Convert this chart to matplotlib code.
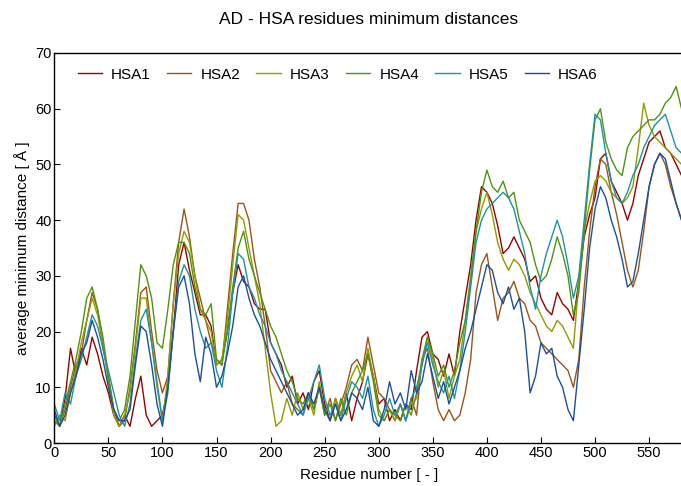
import matplotlib
matplotlib.use("Agg")
import matplotlib.pyplot as plt
import numpy as np

plt.rcParams['font.family'] = ['Liberation Sans', 'DejaVu Sans']

residues = list(range(0, 585, 5))

hsa1 = [5, 3, 8, 17, 12, 17, 14, 19, 16, 12, 9, 5, 3, 5, 3, 8, 12, 5, 3, 4,
        5, 10, 20, 32, 36, 31, 27, 23, 23, 21, 14, 15, 20, 27, 32, 29, 28, 25, 24, 24,
        18, 16, 14, 10, 12, 7, 9, 6, 11, 13, 7, 4, 8, 5, 9, 4, 8, 11, 16, 12,
        7, 8, 4, 6, 4, 7, 6, 13, 19, 20, 16, 15, 12, 16, 12, 20, 26, 32, 40, 46,
        45, 43, 39, 34, 35, 37, 35, 33, 29, 30, 26, 24, 23, 27, 25, 24, 22, 29, 37, 41,
        44, 51, 52, 47, 45, 43, 40, 43, 48, 51, 54, 55, 56, 53, 52, 50, 48]

hsa2 = [4, 3, 6, 10, 14, 16, 22, 27, 24, 17, 12, 6, 3, 4, 10, 18, 27, 28, 20, 13,
        9, 12, 25, 36, 42, 37, 30, 26, 22, 18, 15, 14, 24, 34, 43, 43, 40, 33, 28, 21,
        13, 11, 9, 11, 7, 6, 5, 9, 6, 10, 5, 8, 4, 7, 10, 14, 15, 13, 19, 14,
        9, 8, 6, 4, 7, 4, 8, 5, 15, 17, 11, 6, 4, 6, 4, 5, 9, 15, 27, 32,
        34, 28, 22, 26, 27, 29, 26, 25, 22, 21, 18, 17, 16, 15, 14, 13, 10, 15, 28, 38,
        46, 51, 50, 45, 41, 36, 31, 28, 31, 38, 46, 50, 52, 50, 46, 43, 40]

hsa3 = [3, 5, 4, 9, 13, 18, 22, 26, 23, 18, 11, 5, 3, 5, 9, 17, 26, 26, 18, 10,
        4, 12, 25, 34, 38, 36, 30, 24, 22, 20, 14, 15, 22, 32, 41, 40, 35, 30, 25, 17,
        9, 3, 4, 8, 5, 9, 6, 8, 5, 11, 6, 4, 8, 5, 9, 12, 14, 11, 17, 12,
        6, 4, 6, 4, 7, 4, 7, 8, 14, 19, 15, 10, 13, 8, 12, 15, 22, 30, 38, 42,
        45, 41, 36, 33, 31, 33, 32, 30, 27, 25, 23, 21, 20, 22, 21, 19, 17, 29, 38, 43,
        47, 48, 47, 45, 44, 43, 44, 46, 53, 61, 57, 55, 54, 53, 52, 51, 50]

hsa4 = [5, 3, 7, 11, 15, 20, 26, 28, 24, 19, 12, 6, 4, 6, 12, 22, 32, 30, 26, 18,
        17, 24, 32, 36, 36, 34, 28, 24, 23, 25, 15, 14, 20, 28, 35, 38, 33, 30, 27, 24,
        21, 19, 16, 13, 11, 8, 7, 9, 6, 10, 5, 7, 4, 8, 5, 9, 11, 13, 16, 11,
        5, 4, 6, 5, 4, 7, 5, 9, 15, 19, 16, 12, 14, 10, 13, 18, 22, 29, 38, 45,
        49, 46, 45, 47, 44, 45, 40, 38, 36, 32, 29, 30, 33, 37, 34, 30, 23, 27, 38, 49,
        58, 60, 54, 51, 49, 48, 53, 55, 56, 57, 58, 58, 59, 61, 62, 64, 60]

hsa5 = [7, 4, 9, 7, 12, 15, 19, 23, 21, 17, 13, 9, 5, 3, 7, 15, 22, 24, 18, 11,
        4, 9, 20, 29, 32, 30, 24, 20, 17, 18, 13, 10, 17, 27, 34, 33, 28, 26, 23, 21,
        18, 16, 13, 11, 9, 7, 5, 8, 11, 14, 8, 5, 7, 4, 8, 11, 10, 8, 12, 6,
        3, 5, 8, 5, 7, 4, 8, 10, 14, 18, 14, 11, 9, 12, 8, 13, 20, 28, 36, 40,
        42, 43, 44, 45, 44, 42, 38, 34, 28, 24, 30, 34, 37, 40, 37, 32, 26, 30, 40, 50,
        59, 58, 52, 47, 44, 43, 45, 48, 50, 53, 55, 57, 58, 59, 56, 53, 52]

hsa6 = [6, 3, 5, 9, 12, 16, 18, 22, 19, 15, 10, 6, 4, 4, 6, 14, 21, 20, 14, 7,
        3, 10, 20, 28, 30, 25, 16, 11, 19, 16, 10, 12, 16, 21, 28, 30, 26, 23, 21, 18,
        15, 13, 11, 9, 7, 5, 6, 9, 7, 10, 6, 4, 7, 4, 6, 9, 8, 6, 10, 4,
        3, 6, 11, 7, 9, 6, 13, 9, 11, 16, 12, 8, 11, 7, 10, 13, 17, 20, 24, 28,
        32, 31, 27, 25, 28, 24, 26, 20, 9, 12, 18, 16, 17, 12, 10, 6, 4, 14, 24, 35,
        42, 46, 44, 40, 37, 33, 28, 29, 34, 40, 46, 50, 52, 51, 47, 43, 40]

labels = ['HSA1', 'HSA2', 'HSA3', 'HSA4', 'HSA5', 'HSA6']
colors = ['#990000', '#9c5418', '#929a00', '#4f9410', '#1c93a4', '#1b4f9c']
series = [hsa1, hsa2, hsa3, hsa4, hsa5, hsa6]

fig = plt.figure(figsize=(6.81, 4.86), dpi=100)
ax = fig.add_axes([54.3 / 681, 1 - 443 / 486, 629.4 / 681, 390 / 486])

for ys, lab, col in zip(series, labels, colors):
    ax.plot(residues, ys, color=col, lw=1.0, label=lab)

ax.set_xlim(0, 582)
ax.set_ylim(0, 70)
ax.set_xticks(range(0, 551, 50))
ax.set_yticks(range(0, 71, 10))
ax.tick_params(direction='in', length=4, labelsize=10.5, pad=2)
ax.spines['right'].set_visible(False)
for s in ['left', 'bottom', 'top']:
    ax.spines[s].set_linewidth(1.0)

ax.set_xlabel('Residue number [ - ]', fontsize=11, labelpad=6)
ax.set_ylabel('average minimum distance [ Å ]', fontsize=11, labelpad=4)
fig.text(369 / 681, 1 - 20 / 486, 'AD - HSA residues minimum distances',
         ha='center', va='center', fontsize=12.5)

ax.legend(loc='center left', bbox_to_anchor=(0.037, 0.944), ncol=6, frameon=False,
          fontsize=11, handlelength=1.6, handletextpad=0.6, columnspacing=1.05,
          borderaxespad=0, borderpad=0)

fig.savefig('out.png', dpi=100)
